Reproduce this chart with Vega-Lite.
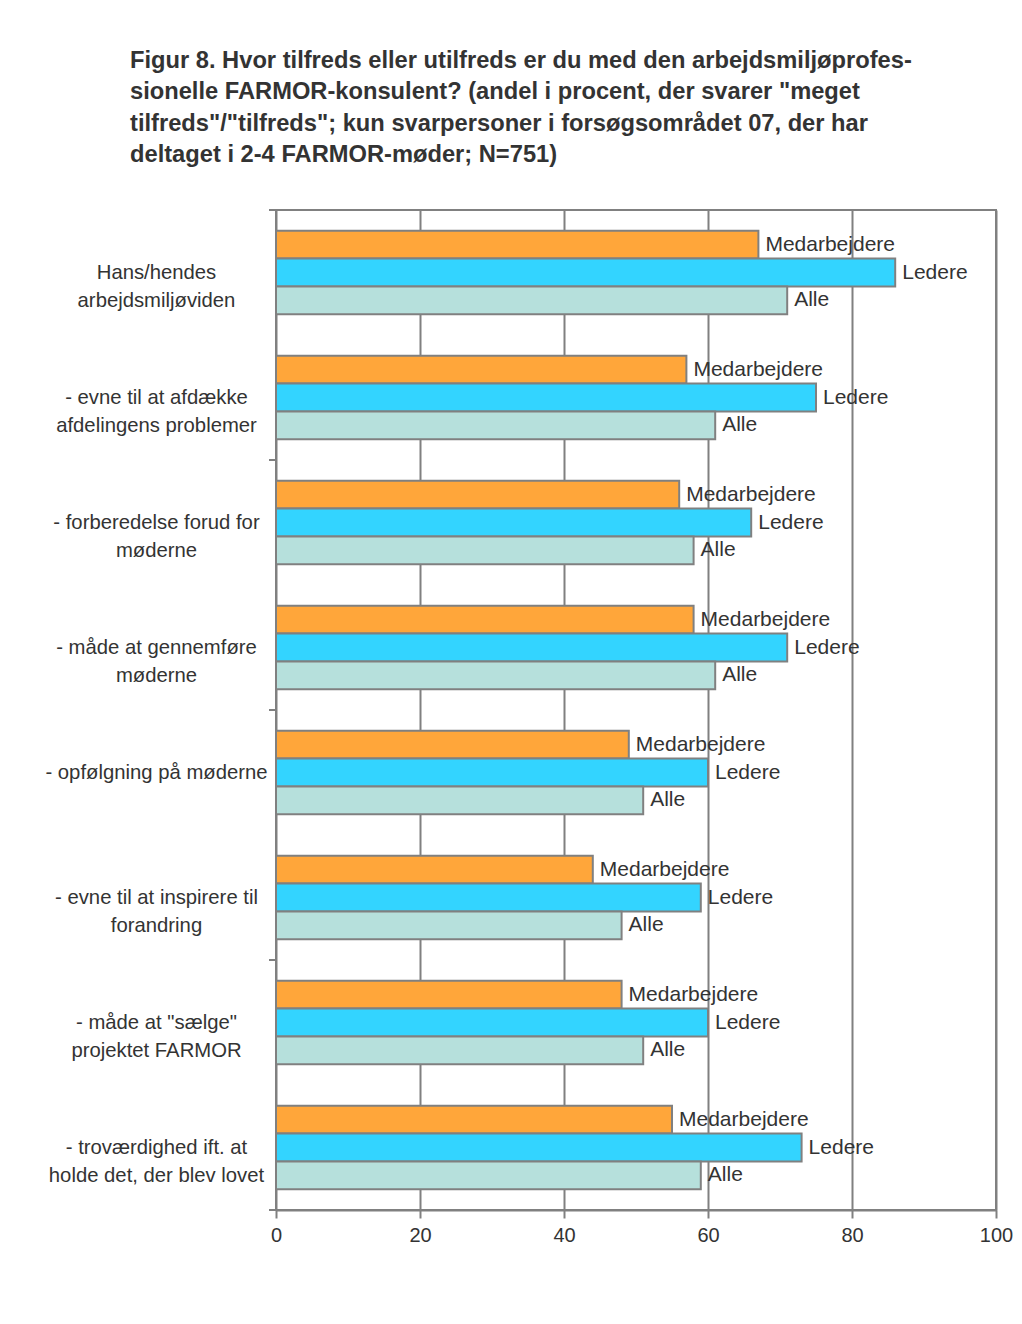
{
  "$schema": "https://vega.github.io/schema/vega-lite/v6.json",
  "width": 720,
  "height": 1000,
  "autosize": {"type": "none"},
  "padding": {"left": 276, "top": 210, "right": 26, "bottom": 114},
  "background": "white",
  "title": {
    "text": [
      "Figur 8. Hvor tilfreds eller utilfreds er du med den arbejdsmiljøprofes-",
      "sionelle FARMOR-konsulent? (andel i procent, der svarer \"meget",
      "tilfreds\"/\"tilfreds\"; kun svarpersoner i forsøgsområdet 07, der har",
      "deltaget i 2-4 FARMOR-møder; N=751)"
    ],
    "anchor": "start",
    "frame": "group",
    "dx": -146,
    "offset": 42,
    "font": "Liberation Sans",
    "fontSize": 23.7,
    "fontWeight": "bold",
    "color": "#333333",
    "lineHeight": 31.5
  },
  "config": {
    "view": {"stroke": "#808080", "strokeWidth": 2},
    "font": "Liberation Sans"
  },
  "datasets": {
    "rows": [
      {"cat": "Hans/hendes|arbejdsmiljøviden", "series": "Medarbejdere", "value": 67},
      {"cat": "Hans/hendes|arbejdsmiljøviden", "series": "Ledere", "value": 86},
      {"cat": "Hans/hendes|arbejdsmiljøviden", "series": "Alle", "value": 71},
      {"cat": "- evne til at afdække|afdelingens problemer", "series": "Medarbejdere", "value": 57},
      {"cat": "- evne til at afdække|afdelingens problemer", "series": "Ledere", "value": 75},
      {"cat": "- evne til at afdække|afdelingens problemer", "series": "Alle", "value": 61},
      {"cat": "- forberedelse forud for|møderne", "series": "Medarbejdere", "value": 56},
      {"cat": "- forberedelse forud for|møderne", "series": "Ledere", "value": 66},
      {"cat": "- forberedelse forud for|møderne", "series": "Alle", "value": 58},
      {"cat": "- måde at gennemføre|møderne", "series": "Medarbejdere", "value": 58},
      {"cat": "- måde at gennemføre|møderne", "series": "Ledere", "value": 71},
      {"cat": "- måde at gennemføre|møderne", "series": "Alle", "value": 61},
      {"cat": "- opfølgning på møderne", "series": "Medarbejdere", "value": 49},
      {"cat": "- opfølgning på møderne", "series": "Ledere", "value": 60},
      {"cat": "- opfølgning på møderne", "series": "Alle", "value": 51},
      {"cat": "- evne til at inspirere til|forandring", "series": "Medarbejdere", "value": 44},
      {"cat": "- evne til at inspirere til|forandring", "series": "Ledere", "value": 59},
      {"cat": "- evne til at inspirere til|forandring", "series": "Alle", "value": 48},
      {"cat": "- måde at \"sælge\"|projektet FARMOR", "series": "Medarbejdere", "value": 48},
      {"cat": "- måde at \"sælge\"|projektet FARMOR", "series": "Ledere", "value": 60},
      {"cat": "- måde at \"sælge\"|projektet FARMOR", "series": "Alle", "value": 51},
      {"cat": "- troværdighed ift. at|holde det, der blev lovet", "series": "Medarbejdere", "value": 55},
      {"cat": "- troværdighed ift. at|holde det, der blev lovet", "series": "Ledere", "value": 73},
      {"cat": "- troværdighed ift. at|holde det, der blev lovet", "series": "Alle", "value": 59}
    ]
  },
  "data": {"name": "rows"},
  "encoding": {
    "y": {
      "field": "cat",
      "type": "nominal",
      "sort": null,
      "scale": {
        "domain": [
          "Hans/hendes|arbejdsmiljøviden",
          "- evne til at afdække|afdelingens problemer",
          "- forberedelse forud for|møderne",
          "- måde at gennemføre|møderne",
          "- opfølgning på møderne",
          "- evne til at inspirere til|forandring",
          "- måde at \"sælge\"|projektet FARMOR",
          "- troværdighed ift. at|holde det, der blev lovet"
        ],
        "paddingInner": 0,
        "paddingOuter": 0
      },
      "axis": {
        "title": null,
        "ticks": false,
        "domain": false,
        "labelExpr": "split(datum.label, '|')",
        "labelAlign": "center",
        "labelBaseline": "middle",
        "labelLineHeight": 28,
        "labelPadding": 120,
        "labelFontSize": 20.3,
        "labelColor": "#333333",
        "labelFont": "Liberation Sans",
        "labelLimit": 0
      }
    }
  },
  "layer": [
    {
      "mark": {"type": "bar", "stroke": "#808080", "strokeWidth": 2},
      "encoding": {
        "x": {
          "field": "value",
          "type": "quantitative",
          "scale": {"domain": [0, 100], "nice": false},
          "axis": {
            "title": null,
            "values": [0, 20, 40, 60, 80, 100],
            "grid": true,
            "gridColor": "#808080",
            "gridWidth": 2,
            "gridOpacity": 1,
            "domainColor": "#808080",
            "domainWidth": 2,
            "tickColor": "#808080",
            "tickWidth": 2,
            "tickSize": 8,
            "labelFlush": false,
            "labelPadding": 7,
            "labelFontSize": 20,
            "labelColor": "#333333",
            "labelFont": "Liberation Sans"
          }
        },
        "yOffset": {
          "field": "series",
          "type": "nominal",
          "sort": ["Medarbejdere", "Ledere", "Alle"],
          "scale": {"paddingInner": 0, "paddingOuter": 0.74}
        },
        "fill": {
          "field": "series",
          "type": "nominal",
          "scale": {
            "domain": ["Medarbejdere", "Ledere", "Alle"],
            "range": ["#FFA63A", "#33D4FF", "#B6E0DC"]
          },
          "legend": null
        }
      }
    },
    {
      "mark": {"type": "text", "align": "left", "baseline": "middle", "dx": 7, "fontSize": 21, "color": "#333333", "font": "Liberation Sans"},
      "encoding": {
        "x": {"field": "value", "type": "quantitative"},
        "yOffset": {"field": "series", "type": "nominal", "sort": ["Medarbejdere", "Ledere", "Alle"]},
        "text": {"field": "series"}
      }
    },
    {
      "transform": [
        {"filter": {"field": "series", "equal": "Medarbejdere"}},
        {"filter": {"field": "cat", "oneOf": ["Hans/hendes|arbejdsmiljøviden", "- forberedelse forud for|møderne", "- opfølgning på møderne", "- måde at \"sælge\"|projektet FARMOR"]}}
      ],
      "mark": {"type": "rule", "color": "#808080", "strokeWidth": 2, "xOffset": -7},
      "encoding": {
        "y": {"field": "cat", "type": "nominal", "bandPosition": 0},
        "x": {"datum": 0},
        "x2": {"datum": 0}
      }
    },
    {
      "transform": [
        {"filter": {"field": "series", "equal": "Medarbejdere"}},
        {"filter": {"field": "cat", "equal": "- troværdighed ift. at|holde det, der blev lovet"}}
      ],
      "mark": {"type": "rule", "color": "#808080", "strokeWidth": 2, "xOffset": -7},
      "encoding": {
        "y": {"field": "cat", "type": "nominal", "bandPosition": 1},
        "x": {"datum": 0},
        "x2": {"datum": 0}
      }
    }
  ]
}
